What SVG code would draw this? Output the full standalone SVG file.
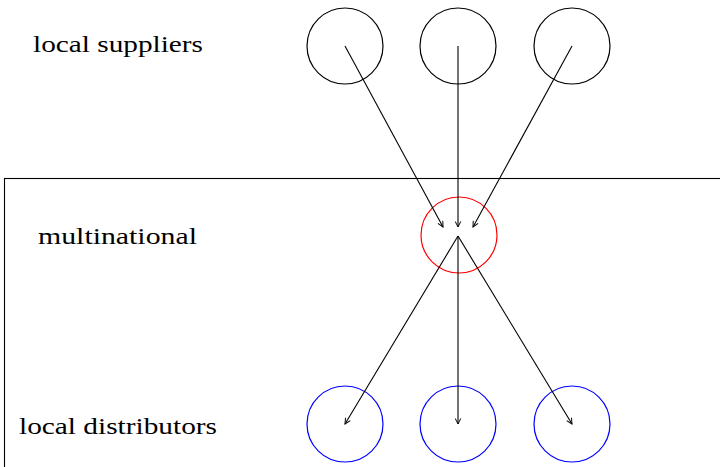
<svg xmlns="http://www.w3.org/2000/svg" width="720" height="467" viewBox="0 0 720 467">
<style>
.lbl{font-family:"Liberation Serif","DejaVu Serif",serif;font-size:23px;fill:#000}
.node{fill:none;stroke-width:1.2}
.edge{stroke:#000;stroke-width:1.1;fill:none;marker-end:url(#arr)}
</style>
<defs>
<marker id="arr" viewBox="0 0 10 10" refX="9" refY="5" markerWidth="7" markerHeight="7" markerUnits="userSpaceOnUse" orient="auto">
<path d="M1,1 L9,5 L1,9" fill="none" stroke="#000" stroke-width="1.4"/>
</marker>
</defs>
<rect x="4.5" y="178.5" width="730" height="300" fill="none" stroke="#000" stroke-width="1.1"/>
<text class="lbl" x="33" y="52" textLength="170" lengthAdjust="spacingAndGlyphs">local suppliers</text>
<text class="lbl" x="38" y="244" textLength="159" lengthAdjust="spacingAndGlyphs">multinational</text>
<text class="lbl" x="19" y="434" textLength="198" lengthAdjust="spacingAndGlyphs">local distributors</text>
<g id="s1"><circle class="node" cx="345" cy="46" r="38" stroke="#000"/></g>
<g id="s2"><circle class="node" cx="458" cy="46" r="38" stroke="#000"/></g>
<g id="s3"><circle class="node" cx="572" cy="46" r="38" stroke="#000"/></g>
<g id="m"><circle class="node" cx="459" cy="235" r="38" stroke="#f00"/></g>
<g id="d1"><circle class="node" cx="345" cy="424" r="38" stroke="#00f"/></g>
<g id="d2"><circle class="node" cx="458" cy="424" r="38" stroke="#00f"/></g>
<g id="d3"><circle class="node" cx="572" cy="424" r="38" stroke="#00f"/></g>
<g id="connectors">
<line class="edge" x1="345" y1="46" x2="443" y2="227"/>
<line class="edge" x1="458" y1="46" x2="458" y2="227"/>
<line class="edge" x1="572" y1="46" x2="473" y2="227"/>
<line class="edge" x1="458" y1="236" x2="345" y2="424"/>
<line class="edge" x1="458" y1="236" x2="458" y2="424"/>
<line class="edge" x1="458" y1="236" x2="572" y2="424"/>
</g>
</svg>
